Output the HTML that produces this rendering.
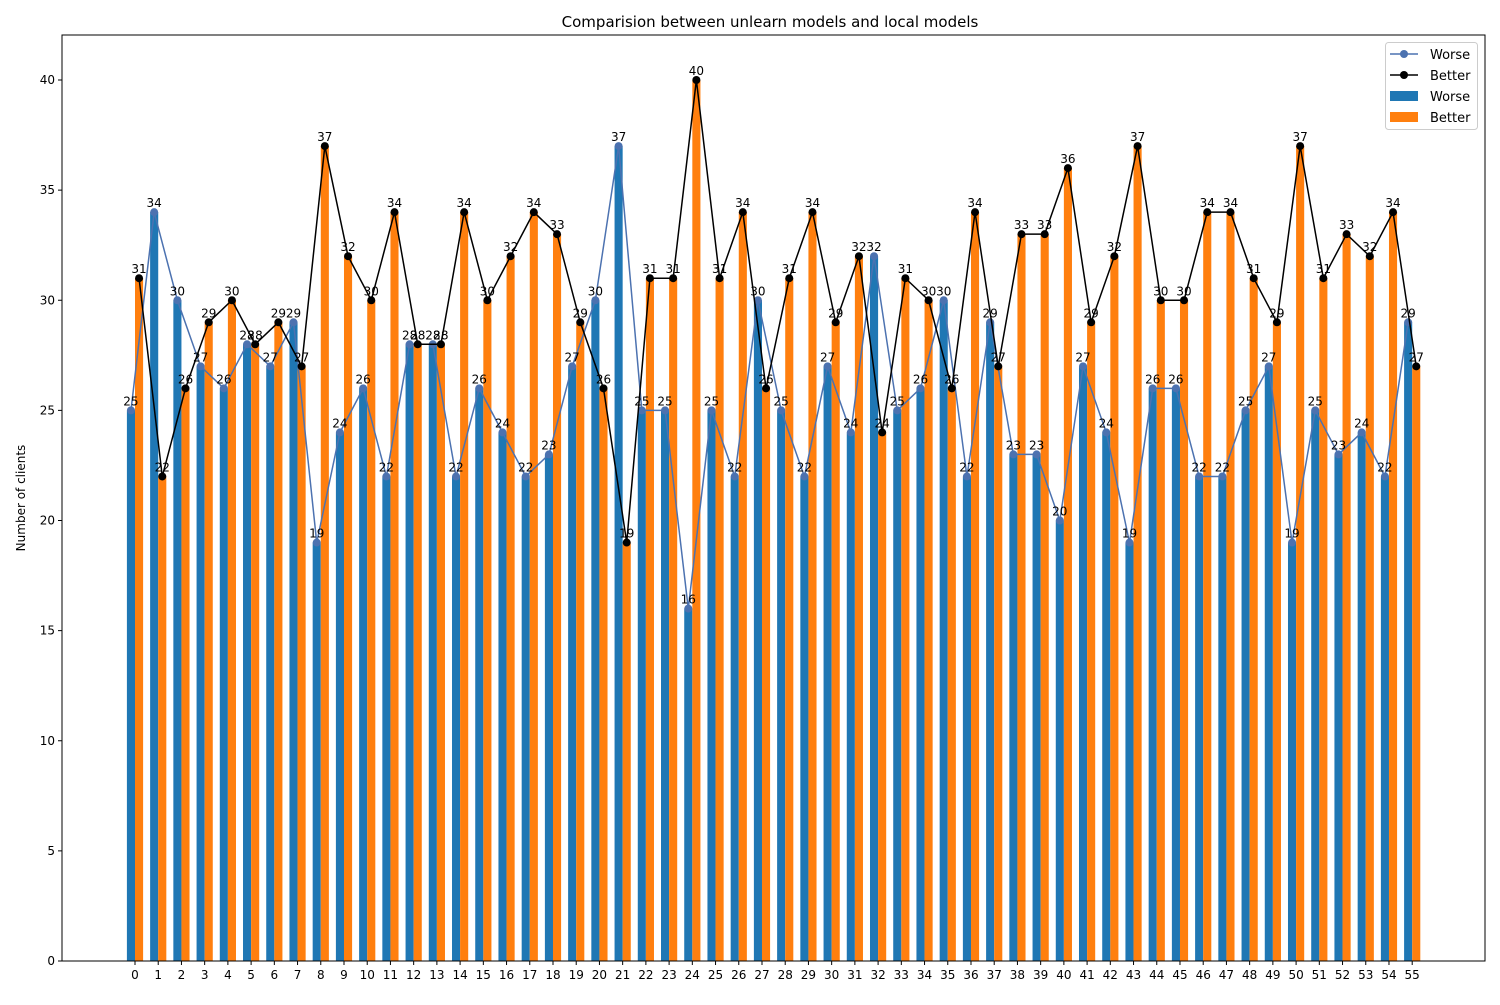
<!DOCTYPE html>
<html><head><meta charset="utf-8"><style>
body{margin:0;background:#fff;font-family:"Liberation Sans","DejaVu Sans",sans-serif}
</style></head><body>
<svg id="chart" width="1500" height="1000" xmlns="http://www.w3.org/2000/svg" font-family="DejaVu Sans, Liberation Sans, sans-serif">
<rect width="1500" height="1000" fill="#fff"/>
<text x="770" y="27" font-size="15" text-anchor="middle">Comparision between unlearn models and local models</text>
<text transform="translate(25,498) rotate(-90)" font-size="12" text-anchor="middle">Number of clients</text>
<g id="marks"></g>
<rect x="62" y="35" width="1423" height="926" fill="none" stroke="#000" stroke-width="1"/>
<g>
<rect x="1385.5" y="42.5" width="92" height="87" rx="3" fill="#fff" fill-opacity="0.8" stroke="#ccc"/>
<line x1="1390" y1="54" x2="1418" y2="54" stroke="#4c72b0" stroke-width="1.5"/><circle cx="1404" cy="54" r="4" fill="#4c72b0"/>
<text x="1430" y="59" font-size="13">Worse</text>
<line x1="1390" y1="75" x2="1418" y2="75" stroke="#000" stroke-width="1.5"/><circle cx="1404" cy="75" r="4" fill="#000"/>
<text x="1430" y="80" font-size="13">Better</text>
<rect x="1390" y="91" width="28" height="10" fill="#1f77b4"/>
<text x="1430" y="101" font-size="13">Worse</text>
<rect x="1390" y="112" width="28" height="10" fill="#ff7f0e"/>
<text x="1430" y="122" font-size="13">Better</text>
</g>
</svg>
<script>
const worse=[25,34,30,27,26,28,27,29,19,24,26,22,28,28,22,26,24,22,23,27,30,37,25,25,16,25,22,30,25,22,27,24,32,25,26,30,22,29,23,23,20,27,24,19,26,26,22,22,25,27,19,25,23,24,22,29];
const better=[31,22,26,29,30,28,29,27,37,32,30,34,28,28,34,30,32,34,33,29,26,19,31,31,40,31,34,26,31,34,29,32,24,31,30,26,34,27,33,33,36,29,32,37,30,30,34,34,31,29,37,31,33,32,34,27];
const yTicks=[0,5,10,15,20,25,30,35,40];
const NS="http://www.w3.org/2000/svg";
const g=document.getElementById('marks');
const X=i=>135+i*(1412.2-135)/55;
const Y=v=>961-v*(961-80)/40;
const bw=8.1;
function el(t,a){const e=document.createElementNS(NS,t);for(const k in a)e.setAttribute(k,a[k]);g.appendChild(e);return e;}
worse.forEach((v,i)=>{
 const r=el('rect',{x:X(i)-bw,y:Y(v),width:bw,height:Y(0)-Y(v),fill:'#1f77b4'});
 
 
});
better.forEach((v,i)=>{
 const r=el('rect',{x:X(i),y:Y(better[i]),width:bw,height:Y(0)-Y(better[i]),fill:'#ff7f0e'});
 
 
});
function line(arr,dx,col,name){
 const p=el('polyline',{points:arr.map((v,i)=>(X(i)+dx)+','+Y(v)).join(' '),fill:'none',stroke:col,'stroke-width':1.5});
 
 
 arr.forEach((v,i)=>{
  const c=el('circle',{cx:X(i)+dx,cy:Y(v),r:4,fill:col});
  
  
  const t=el('text',{x:X(i)+dx,y:Y(v)-5,'font-size':12,'text-anchor':'middle'});
  t.textContent=v;
  
  
 });
}
line(worse,-bw/2,'#4c72b0','worse');
line(better,bw/2,'#000','better');
yTicks.forEach(v=>{
 const l=el('line',{x1:58,x2:62,y1:Y(v),y2:Y(v),stroke:'#000'});
 
 
 const t=el('text',{x:55,y:Y(v)+4,'font-size':12,'text-anchor':'end'});
 t.textContent=v;
 
 
});
worse.forEach((v,i)=>{
 const l=el('line',{x1:X(i),x2:X(i),y1:961,y2:965,stroke:'#000'});
 
 
 const t=el('text',{x:X(i),y:979,'font-size':12,'text-anchor':'middle'});
 t.textContent=i;
 
 
});
</script>
</body></html>
